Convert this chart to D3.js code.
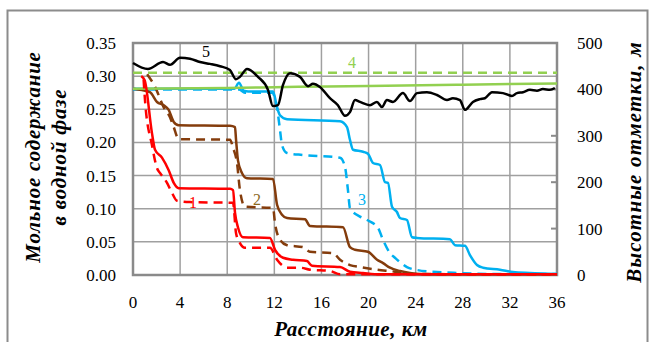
<!DOCTYPE html>
<html>
<head>
<meta charset="utf-8">
<script src="https://cdn.jsdelivr.net/npm/d3@7"></script>
<style>
  body { margin: 0; background: #fff; }
  svg text { font-family: "Liberation Serif", "DejaVu Serif", serif; }
</style>
</head>
<body>
<svg id="chart" width="649" height="342"></svg>
<script>
// distance ticks, km
var xTicks = [0, 4, 8, 12, 16, 20, 24, 28, 32, 36];
var yTicks = [0, 0.05, 0.10, 0.15, 0.20, 0.25, 0.30, 0.35];
var elevTicks = [0, 100, 200, 300, 400, 500];

// series 1 (red)
var red1 = [[0.7,0.300],[0.99,0.294],[1.61,0.214],[1.87,0.189],[2.46,0.177],[3.03,0.158],[3.46,0.139],[3.88,0.131],[8.24,0.130],[8.49,0.128],[8.66,0.094],[8.91,0.072],[9.34,0.057],[11.63,0.056],[12.06,0.038],[12.74,0.026],[13.58,0.023],[14.77,0.021],[15.2,0.014],[17.58,0.012],[18.42,0.005],[19.53,0.003],[20.97,0.001],[36,0.001]];
var red1d = [[0.9,0.295],[1.04,0.259],[1.61,0.196],[2.04,0.161],[2.29,0.154],[2.89,0.139],[3.31,0.124],[3.74,0.112],[4.84,0.110],[8.49,0.109],[8.75,0.063],[9.08,0.048],[9.51,0.041],[11.63,0.041],[12.23,0.023],[12.65,0.015],[13.08,0.011],[14.18,0.011],[15.03,0.008],[16.73,0.006],[17.58,0.001],[36,0.001]];
// series 2 (brown)
var brown2 = [[0,0.281],[0.76,0.279],[1.44,0.276],[2.04,0.261],[2.61,0.256],[3.03,0.249],[3.46,0.231],[3.88,0.226],[8.24,0.225],[8.66,0.223],[8.75,0.204],[8.91,0.173],[9.25,0.154],[9.68,0.146],[11.89,0.145],[12.23,0.106],[12.65,0.091],[13.08,0.086],[14.6,0.084],[15.03,0.074],[17.83,0.072],[18.42,0.042],[18.85,0.038],[19.95,0.035],[20.72,0.023],[21.23,0.018],[21.82,0.011],[22.67,0.006],[23.52,0.003],[24.37,0.0015],[26.06,0.001],[36,0.001]];
var brown2d = [[1.2,0.303],[1.87,0.284],[2.61,0.253],[3.14,0.238],[3.46,0.223],[3.88,0.205],[8.24,0.204],[8.49,0.192],[8.83,0.169],[9.08,0.128],[9.51,0.103],[11.89,0.101],[12.06,0.078],[12.48,0.053],[13.08,0.045],[14.43,0.042],[15.03,0.035],[16.98,0.033],[17.58,0.023],[18.42,0.015],[19.27,0.012],[20.72,0.008],[22.24,0.005],[23.52,0.0015],[36,0.001]];
// series 3 (cyan)
var cyan3 = [[0,0.281],[8.6,0.281],[9.0,0.29],[9.4,0.278],[9.8,0.277],[11.89,0.277],[12.23,0.253],[12.48,0.241],[13.08,0.235],[17.58,0.232],[18.17,0.223],[18.42,0.204],[18.68,0.189],[19.53,0.186],[19.95,0.183],[20.38,0.169],[20.97,0.166],[21.4,0.140],[21.65,0.139],[21.99,0.103],[22.41,0.095],[22.67,0.086],[23.26,0.083],[23.69,0.057],[24.11,0.056],[26.91,0.054],[27.34,0.045],[28.19,0.044],[28.61,0.030],[29.21,0.015],[29.72,0.011],[31.16,0.008],[32.26,0.0045],[33.7,0.003],[36,0.0015]];
var cyan3d = [[0,0.280],[9.0,0.280],[9.5,0.275],[11.8,0.275],[12.23,0.252],[12.48,0.219],[12.65,0.196],[13.08,0.184],[14.43,0.181],[17.58,0.177],[18.0,0.163],[18.25,0.128],[18.42,0.101],[19.27,0.088],[19.87,0.083],[20.8,0.071],[21.23,0.053],[21.82,0.033],[22.24,0.026],[23.26,0.012],[24.11,0.0075],[25.81,0.0045],[27.51,0.003],[30.31,0.0015],[36,0.0015]];
// series 4 (green)
var green4 = [[0,0.281],[8,0.282],[14,0.284],[20,0.285],[28,0.287],[36,0.289]];
var green4d = [[0,0.305],[36,0.305]];
// series 5: elevation, m (right axis)
var elev5 = [[0,457],[1.27,444],[2.55,459],[3.14,453],[3.99,468],[4.84,466],[5.69,459],[6.54,455],[7.39,450],[8.23,442],[8.74,422],[9.08,427],[9.68,444],[10.61,427],[11.46,399],[11.88,364],[12.31,366],[12.73,409],[13.33,435],[14.18,427],[14.86,407],[15.28,412],[15.87,405],[16.72,381],[17.4,366],[18.0,343],[18.42,351],[18.85,377],[19.27,373],[20.12,366],[20.71,373],[21.14,362],[21.56,377],[22.07,373],[22.92,392],[23.51,375],[24.11,392],[24.96,394],[25.81,388],[26.66,377],[27.16,381],[27.76,377],[28.18,356],[28.86,373],[29.46,379],[29.88,381],[30.48,394],[31.41,392],[32.17,386],[32.6,392],[33.11,394],[33.7,399],[34.3,397],[34.8,401],[35.4,399],[35.82,403]];

var svg = d3.select("#chart");
var pLeft = 133, pRight = 557, pTop = 43, pBottom = 275;

var x = d3.scaleLinear().domain([0, 36]).range([pLeft, pRight]);
var y = d3.scaleLinear().domain([0, 0.35]).range([pBottom, pTop]);
var y2 = d3.scaleLinear().domain([0, 500]).range([pBottom, pTop]);

// outer frame
svg.append("rect")
   .attr("x", 7.5).attr("y", 10.5)
   .attr("width", 640).attr("height", 340)
   .attr("fill", "none").attr("stroke", "#8c8c8c").attr("stroke-width", 2);

// gridlines
svg.append("g")
   .selectAll("line")
   .data(yTicks)
   .enter().append("line")
   .attr("x1", pLeft).attr("x2", pRight)
   .attr("y1", d => y(d)).attr("y2", d => y(d))
   .attr("stroke", "#a0a0a0").attr("stroke-width", 1.5);

svg.append("g")
   .selectAll("line")
   .data(xTicks)
   .enter().append("line")
   .attr("x1", d => x(d)).attr("x2", d => x(d))
   .attr("y1", pTop).attr("y2", pBottom)
   .attr("stroke", "#a0a0a0").attr("stroke-width", 1.5);

// plot border
svg.append("rect")
   .attr("x", pLeft).attr("y", pTop)
   .attr("width", pRight - pLeft).attr("height", pBottom - pTop)
   .attr("fill", "none").attr("stroke", "#8a8a8a").attr("stroke-width", 2.5);

// right axis ticks (inward)
svg.append("g")
   .selectAll("line")
   .data(elevTicks)
   .enter().append("line")
   .attr("x1", pRight - 6).attr("x2", pRight)
   .attr("y1", d => y2(d)).attr("y2", d => y2(d))
   .attr("stroke", "#8a8a8a").attr("stroke-width", 2);

// tick labels
svg.append("g")
   .selectAll("text")
   .data(yTicks)
   .enter().append("text")
   .attr("x", 116).attr("y", d => y(d) + 6)
   .attr("text-anchor", "end")
   .attr("font-size", 17)
   .text(d => d.toFixed(2));

svg.append("g")
   .selectAll("text")
   .data(elevTicks)
   .enter().append("text")
   .attr("x", 577).attr("y", d => y2(d) + 6)
   .attr("font-size", 17)
   .text(d => d);

svg.append("g")
   .selectAll("text")
   .data(xTicks)
   .enter().append("text")
   .attr("x", d => x(d)).attr("y", 308)
   .attr("text-anchor", "middle")
   .attr("font-size", 17)
   .text(d => d);

// lines
var line = d3.line().x(d => x(d[0])).y(d => y(d[1])).curve(d3.curveMonotoneX);
var lineElev = d3.line().x(d => x(d[0])).y(d => y2(d[1])).curve(d3.curveMonotoneX);

function draw(data, color, dash, gen) {
  svg.append("path")
     .datum(data)
     .attr("d", gen || line)
     .attr("fill", "none")
     .attr("stroke", color)
     .attr("stroke-width", 2.5)
     .attr("stroke-linejoin", "round")
     .attr("stroke-dasharray", dash || null);
}

draw(cyan3d, "#00b0f0", "9,6");
draw(cyan3, "#00b0f0");
draw(brown2d, "#843c0c", "9,6");
draw(brown2, "#843c0c");
draw(green4d, "#92d050", "9,6");
draw(green4, "#92d050");
draw(red1d, "#ff0000", "9,6");
draw(red1, "#ff0000");
draw(elev5, "#000000", null, lineElev);

// series labels
var labels = [
  {t: "1", px: 193, py: 208, c: "#ff0000"},
  {t: "2", px: 257, py: 205, c: "#8c6a1e"},
  {t: "3", px: 362, py: 205, c: "#00b0f0"},
  {t: "4", px: 352, py: 68, c: "#92d050"},
  {t: "5", px: 206, py: 57, c: "#000000"}
];
svg.append("g")
   .selectAll("text")
   .data(labels)
   .enter().append("text")
   .attr("x", d => d.px).attr("y", d => d.py)
   .attr("text-anchor", "middle")
   .attr("font-size", 16)
   .attr("fill", d => d.c)
   .text(d => d.t);

// axis titles
function title(txt, tx, ty, rot, ls) {
  svg.append("text")
     .attr("transform", "translate(" + tx + "," + ty + ")" + (rot ? " rotate(-90)" : ""))
     .attr("text-anchor", "middle")
     .attr("font-size", 21).attr("font-weight", "bold").attr("font-style", "italic")
     .attr("letter-spacing", ls || 0)
     .text(txt);
}
title("Расстояние,  км", 351, 336, false, 0.5);
title("Мольное содержание", 40, 157, true, 0.8);
title("в водной фазе", 66, 157, true, 0.8);
title("Высотные отметки,  м", 641, 162, true, 1.2);
</script>
</body>
</html>
